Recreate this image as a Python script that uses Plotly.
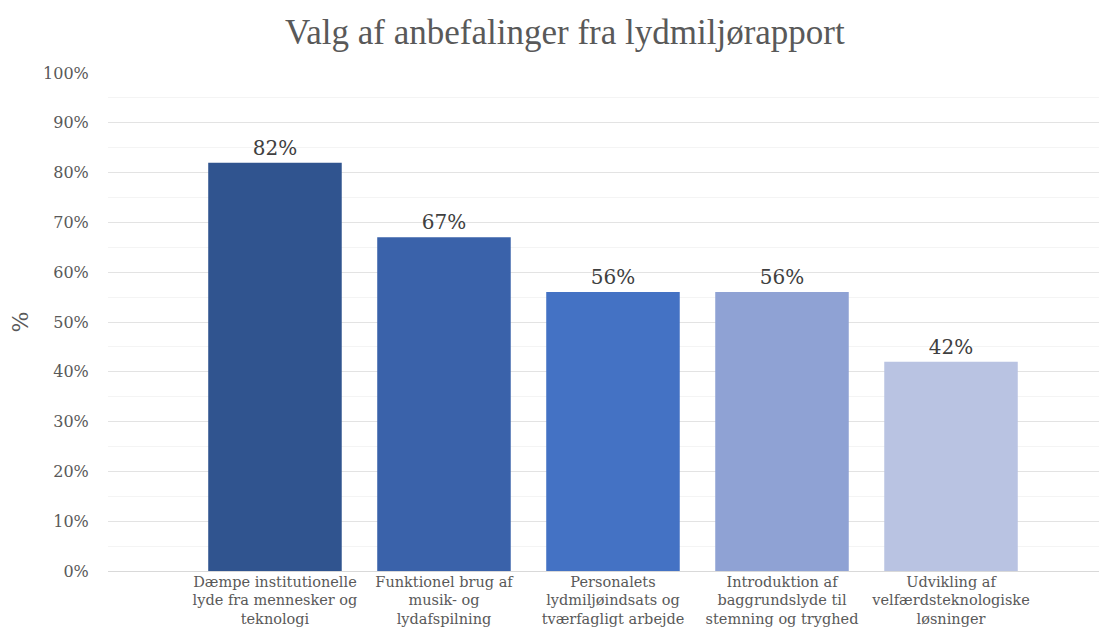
import plotly.graph_objects as go

categories = [
    "Dæmpe institutionelle<br>lyde fra mennesker og<br>teknologi",
    "Funktionel brug af<br>musik- og<br>lydafspilning",
    "Personalets<br>lydmiljøindsats og<br>tværfagligt arbejde",
    "Introduktion af<br>baggrundslyde til<br>stemning og tryghed",
    "Udvikling af<br>velfærdsteknologiske<br>løsninger",
]
values = [82, 67, 56, 56, 42]
bar_colors = ["#30548F", "#3A62AA", "#4472C4", "#8FA2D4", "#B9C3E2"]
tick_vals = [0, 10, 20, 30, 40, 50, 60, 70, 80, 90, 100]
tick_text = [f"{v}%" for v in tick_vals]

serif = "'Times New Roman', 'Liberation Serif', serif"
body = "'DejaVu Serif', serif"

fig = go.Figure()
fig.add_trace(go.Bar(
    x=list(range(len(categories))),
    y=values,
    marker=dict(color=bar_colors, line=dict(width=0)),
    width=0.79,
    text=[f"{v}%" for v in values],
    textposition="outside",
    textfont=dict(family=body, size=20, color="#404040"),
    cliponaxis=False,
))

fig.update_layout(
    width=1107, height=632,
    margin=dict(l=100, r=8, t=65, b=69),
    paper_bgcolor="white", plot_bgcolor="white",
    showlegend=False,
    font=dict(family=body),
    title=dict(text="Valg af anbefalinger fra lydmiljørapport",
               x=0.503, xanchor="center", y=0.962, yanchor="middle",
               font=dict(family=serif, size=35, color="#595959")),
    xaxis=dict(
        range=[-0.988, 4.923],
        tickmode="array", tickvals=list(range(len(categories))), ticktext=categories,
        tickfont=dict(family=body, size=14.5, color="#595959"),
        showgrid=False, zeroline=False, showline=False, ticks="",
        automargin=False,
    ),
    yaxis=dict(
        range=[0, 100],
        tickmode="array", tickvals=tick_vals, ticktext=tick_text,
        tickfont=dict(family=body, size=16, color="#595959"),
        showgrid=True, gridcolor="#E3E3E3", gridwidth=1,
        minor=dict(dtick=5, showgrid=True, gridcolor="#F4F4F4", gridwidth=1),
        zeroline=True, zerolinecolor="#D9D9D9", zerolinewidth=1,
        ticks="outside", ticklen=15, tickcolor="rgba(0,0,0,0)",
        title=dict(text="%", font=dict(family=body, size=22, color="#595959"), standoff=27),
        automargin=False,
    ),
)

fig.write_html("out.html")
